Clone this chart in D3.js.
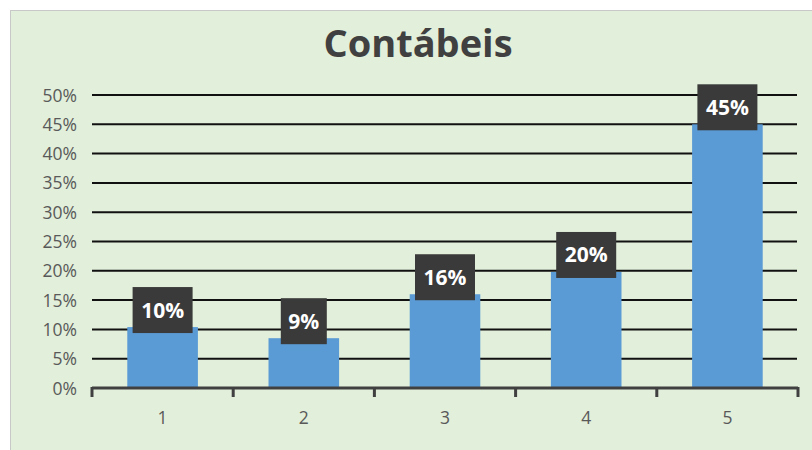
<!DOCTYPE html>
<html>
<head>
<meta charset="utf-8">
<script src="https://cdn.jsdelivr.net/npm/d3@7/dist/d3.min.js"></script>
<style>
  body { margin: 0; background: #fff; }
  text { font-family: "Open Sans", "Noto Sans", sans-serif; }
</style>
</head>
<body>
<svg id="chart" width="812" height="450"></svg>
<script>
// chart data
const categories = ["1", "2", "3", "4", "5"];
const values = [0.104, 0.085, 0.16, 0.198, 0.45];
const labels = ["10%", "9%", "16%", "20%", "45%"];
const yTicks = [0, 0.05, 0.1, 0.15, 0.2, 0.25, 0.3, 0.35, 0.4, 0.45, 0.5];
const title = "Contábeis";

const svg = d3.select("#chart");

// panel background
svg.append("rect")
  .attr("x", 10.5).attr("y", 10.5)
  .attr("width", 812).attr("height", 450)
  .attr("fill", "#e2efda")
  .attr("stroke", "#c8c8c8");

const x = d3.scaleBand().domain(categories).range([92, 798]).paddingInner(0).paddingOuter(0);
const y = d3.scaleLinear().domain([0, 0.5]).range([388, 95]);

// title
svg.append("text")
  .attr("x", 418).attr("y", 57)
  .attr("text-anchor", "middle")
  .attr("font-size", 38).attr("font-weight", "bold")
  .attr("fill", "#404040")
  .text(title);

// gridlines
svg.append("g").selectAll("line")
  .data(yTicks.filter(d => d > 0))
  .enter().append("line")
  .attr("x1", 92).attr("x2", 797)
  .attr("y1", d => y(d)).attr("y2", d => y(d))
  .attr("stroke", "#111").attr("stroke-width", 2);

// y labels
svg.append("g").selectAll("text")
  .data(yTicks)
  .enter().append("text")
  .attr("x", 77).attr("y", d => y(d) + 6.5)
  .attr("text-anchor", "end")
  .attr("font-size", 17.5)
  .attr("fill", "#595959")
  .text(d => d3.format(".0%")(d));

// bars
const bw = x.bandwidth() * 0.5;
svg.append("g").selectAll("rect")
  .data(values)
  .enter().append("rect")
  .attr("x", (d, i) => x(categories[i]) + x.bandwidth() / 2 - bw / 2)
  .attr("y", d => y(d))
  .attr("width", bw)
  .attr("height", d => y(0) - y(d))
  .attr("fill", "#5b9bd5");

// x axis line + ticks
const xAxis = d3.axisBottom(x).tickSize(0).tickPadding(24);
const gx = svg.append("g").attr("transform", "translate(0,388)").call(xAxis);
gx.select(".domain").remove();
gx.selectAll("text")
  .attr("font-size", 17.5)
  .attr("fill", "#595959")
  .style("font-family", "'Open Sans', sans-serif");

svg.append("line")
  .attr("x1", 92).attr("x2", 798)
  .attr("y1", 388).attr("y2", 388)
  .attr("stroke", "#404040").attr("stroke-width", 3);

const bounds = categories.map(c => x(c)).concat([x(categories[categories.length - 1]) + x.bandwidth()]);
svg.append("g").selectAll("line")
  .data(bounds)
  .enter().append("line")
  .attr("x1", d => d).attr("x2", d => d)
  .attr("y1", 387).attr("y2", 397)
  .attr("stroke", "#404040").attr("stroke-width", 3);

// data labels
const lab = svg.append("g").selectAll("g")
  .data(values)
  .enter().append("g")
  .attr("transform", (d, i) => "translate(" + (x(categories[i]) + x.bandwidth() / 2) + "," + (y(d) + 6) + ")");

lab.append("rect")
  .attr("x", (d, i) => labels[i].length > 2 ? -30 : -23)
  .attr("y", -46)
  .attr("width", (d, i) => labels[i].length > 2 ? 60 : 46)
  .attr("height", 46)
  .attr("fill", "#3a3a3a");

lab.append("text")
  .attr("x", 0).attr("y", -15.5)
  .attr("text-anchor", "middle")
  .attr("font-size", 21).attr("font-weight", "bold")
  .attr("fill", "#fff")
  .text((d, i) => labels[i]);
</script>
</body>
</html>
